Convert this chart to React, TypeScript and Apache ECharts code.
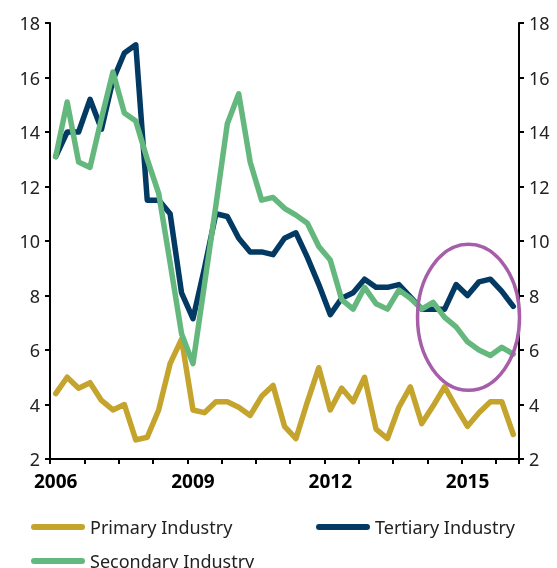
import { useEffect, useRef } from "react";
import * as echarts from "echarts";

const quarters = [
  "2006Q1", "2006Q2", "2006Q3", "2006Q4",
  "2007Q1", "2007Q2", "2007Q3", "2007Q4",
  "2008Q1", "2008Q2", "2008Q3", "2008Q4",
  "2009Q1", "2009Q2", "2009Q3", "2009Q4",
  "2010Q1", "2010Q2", "2010Q3", "2010Q4",
  "2011Q1", "2011Q2", "2011Q3", "2011Q4",
  "2012Q1", "2012Q2", "2012Q3", "2012Q4",
  "2013Q1", "2013Q2", "2013Q3", "2013Q4",
  "2014Q1", "2014Q2", "2014Q3", "2014Q4",
  "2015Q1", "2015Q2", "2015Q3", "2015Q4",
  "2016Q1",
];

const primary = [
  4.4, 5.0, 4.6, 4.8, 4.15, 3.8, 4.0, 2.7, 2.8, 3.8, 5.5,
  6.4, 3.8, 3.7, 4.1, 4.1, 3.9, 3.6, 4.3, 4.7, 3.2,
  2.75, 4.1, 5.35, 3.8, 4.6, 4.1, 5.0, 3.1, 2.75, 3.9,
  4.65, 3.3, 3.95, 4.65, 3.9, 3.2, 3.7, 4.1, 4.1, 2.9,
];

const tertiary = [
  13.1, 14.0, 14.0, 15.2, 14.1, 15.9, 16.9, 17.2, 11.5, 11.5, 11.0,
  8.1, 7.15, 9.0, 11.0, 10.9, 10.1, 9.6, 9.6, 9.5, 10.1,
  10.3, 9.4, 8.4, 7.3, 7.9, 8.1, 8.6, 8.3, 8.3, 8.4,
  7.95, 7.5, 7.5, 7.5, 8.4, 8.0, 8.5, 8.6, 8.15, 7.6,
];

const secondary = [
  13.1, 15.1, 12.9, 12.7, 14.5, 16.2, 14.7, 14.4, 13.0, 11.75, 9.2,
  6.6, 5.5, 8.4, 11.3, 14.3, 15.4, 12.9, 11.5, 11.6, 11.2,
  10.95, 10.65, 9.8, 9.3, 7.85, 7.5, 8.3, 7.7, 7.5, 8.2,
  7.9, 7.5, 7.75, 7.2, 6.85, 6.3, 6.0, 5.8, 6.1, 5.85,
];

const seriesNames = ["Primary Industry", "Tertiary Industry", "Secondary Industry"];
const seriesColors = ["#C4A42C", "#033A63", "#64B87E"];
const highlightCenter = ["2015Q1", 7.2];

const FONT = "Noto Sans";
const legendIcon = "path://M3,0 H51 A3,3 0 0 1 51,6 H3 A3,3 0 0 1 3,0 Z";

export default function App() {
  const ref = useRef<HTMLDivElement>(null);

  useEffect(() => {
    if (!ref.current) return;
    const chart = echarts.init(ref.current, undefined, { renderer: "svg" });

    const yAxisCommon = {
      type: "value",
      min: 2,
      max: 18,
      interval: 2,
      splitLine: { show: false },
      axisLine: { show: true, lineStyle: { color: "#000", width: 2 } },
      axisTick: { show: true, length: 5, lineStyle: { color: "#000", width: 2 } },
      axisLabel: { color: "#222", fontSize: 18, fontFamily: FONT, margin: 10 },
    };

    const legendCommon = {
      icon: legendIcon,
      itemWidth: 54,
      itemHeight: 6,
      textStyle: { fontSize: 18, fontFamily: FONT, color: "#222" },
      selectedMode: false,
    };

    const datasets = [primary, tertiary, secondary];

    chart.setOption({
      animation: false,
      grid: { left: 50, right: 38, top: 23, bottom: 109, containLabel: false },
      legend: [
        { ...legendCommon, data: [seriesNames[0]], left: 26, top: 513 },
        { ...legendCommon, data: [seriesNames[1]], left: 311, top: 513 },
        { ...legendCommon, data: [seriesNames[2]], left: 26, top: 547 },
      ],
      xAxis: {
        type: "category",
        data: quarters,
        boundaryGap: true,
        axisLine: { show: true, lineStyle: { color: "#000", width: 2 } },
        axisTick: {
          show: true,
          length: 5,
          interval: (i: number) => i % 3 === 0,
          lineStyle: { color: "#000", width: 2 },
        },
        axisLabel: {
          interval: (i: number) => i % 12 === 0,
          formatter: (v: string) => v.slice(0, 4),
          color: "#000",
          fontWeight: "bold",
          fontSize: 19,
          fontFamily: FONT,
          margin: 12,
        },
      },
      yAxis: [
        { ...yAxisCommon, position: "left" },
        { ...yAxisCommon, position: "right" },
      ],
      series: datasets.map((d, i) => ({
        name: seriesNames[i],
        type: "line",
        data: d,
        yAxisIndex: 0,
        symbol: "none",
        color: seriesColors[i],
        lineStyle: { width: 5.5, color: seriesColors[i], cap: "round", join: "round" },
      })),
    });

    const c = chart.convertToPixel({ xAxisIndex: 0, yAxisIndex: 0 }, highlightCenter as any) as number[];
    chart.setOption({
      graphic: [
        {
          type: "ellipse",
          shape: { cx: c[0] + 1, cy: c[1], rx: 51, ry: 73 },
          style: { fill: "none", stroke: "#A65EA9", lineWidth: 3.5 },
          z: 100,
        },
      ],
    });

    return () => chart.dispose();
  }, []);

  return (
    <div
      ref={ref}
      style={{ position: "fixed", left: 0, top: 0, width: 557, height: 568 }}
    />
  );
}
